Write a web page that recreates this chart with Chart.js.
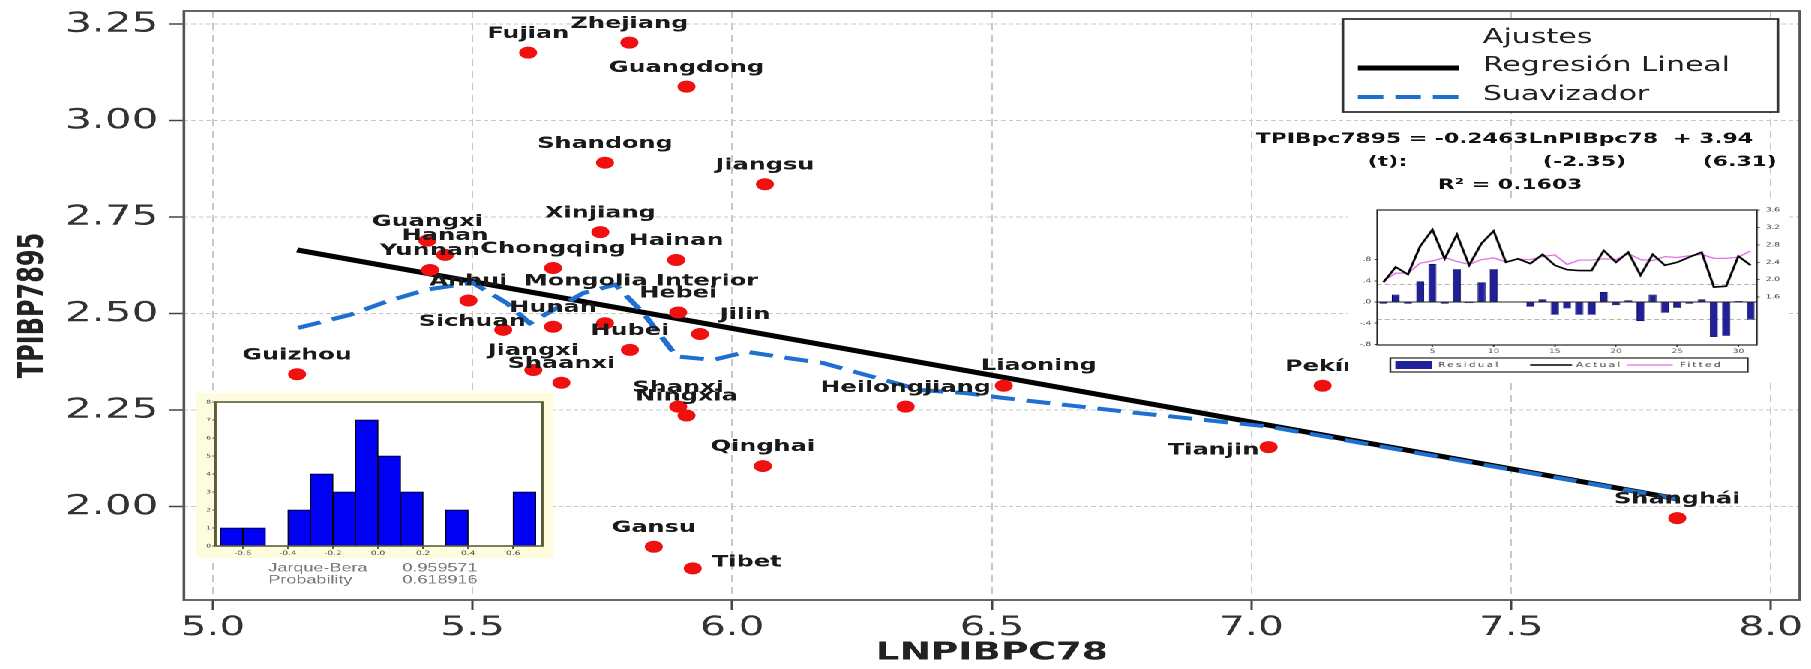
<!DOCTYPE html>
<html>
<head>
<meta charset="utf-8">
<script src="https://cdn.jsdelivr.net/npm/chart.js@4.4.1/dist/chart.umd.min.js"></script>
<style>
  html, body { margin: 0; padding: 0; background: #fff; overflow: hidden; }
  #wrap { position: absolute; left: 0; top: 0; transform-origin: 0 0; }
  .box { position: absolute; }
</style>
</head>
<body>
<div id="wrap">
  <div class="box" id="mainBox"><canvas id="main"></canvas></div>
  <div class="box" id="histBox"><canvas id="hist"></canvas></div>
  <div class="box" id="residBox"><canvas id="resid"></canvas></div>
</div>
<script>
// the reference picture is stretched sideways, so the whole page is drawn narrow and scaled
const S = 1.5;
const X = v => v / S;

// scatter: provinces
const provinces = ['Fujian', 'Zhejiang', 'Guangdong', 'Shandong', 'Jiangsu', 'Xinjiang', 'Guangxi', 'Hanan',
  'Hainan', 'Yunnan', 'Chongqing', 'Anhui', 'Mongolia Interior', 'Hebei', 'Hunan', 'Sichuan', 'Jilin', 'Hubei',
  'Jiangxi', 'Shaanxi', 'Guizhou', 'Shanxi', 'Ningxia', 'Heilongjiang', 'Liaoning', 'Qinghai', 'Gansu', 'Tibet',
  'Tianjin', 'Pekín', 'Shanghái'];
const lnpib = [5.607, 5.802, 5.912, 5.755, 6.063, 5.746, 5.413, 5.447, 5.892, 5.418, 5.655, 5.492, 5.755, 5.896,
  5.655, 5.559, 5.938, 5.803, 5.617, 5.671, 5.162, 5.896, 5.912, 6.334, 6.523, 6.059, 5.849, 5.924, 7.033, 7.137, 7.820];
const tpib = [3.176, 3.202, 3.088, 2.891, 2.835, 2.711, 2.689, 2.652, 2.639, 2.613, 2.618, 2.534, 2.475, 2.503,
  2.466, 2.458, 2.447, 2.406, 2.354, 2.321, 2.343, 2.259, 2.236, 2.259, 2.313, 2.105, 1.896, 1.840, 2.154, 2.313, 1.970];

// fitted lines
const regX = [5.162, 7.82];
const regY = [2.665, 2.02];
const smoothX = [5.164, 5.264, 5.334, 5.411, 5.50, 5.566, 5.610, 5.713, 5.775, 5.829, 5.893, 5.963, 6.028, 6.106,
  6.175, 6.244, 6.363, 6.450, 6.519, 6.604, 6.691, 6.777, 6.906, 7.035, 7.44, 7.82];
const smoothY = [2.463, 2.497, 2.531, 2.562, 2.580, 2.527, 2.475, 2.553, 2.575, 2.501, 2.389, 2.380, 2.401, 2.385,
  2.372, 2.346, 2.302, 2.294, 2.282, 2.269, 2.256, 2.243, 2.225, 2.207, 2.11, 2.02];

const xTicks = [5.0, 5.5, 6.0, 6.5, 7.0, 7.5, 8.0];
const yTicks = [2.00, 2.25, 2.50, 2.75, 3.00, 3.25];

// histogram of residuals
const histMid = [-0.65, -0.55, -0.45, -0.35, -0.25, -0.15, -0.05, 0.05, 0.15, 0.25, 0.35, 0.45, 0.55, 0.65];
const histCount = [1, 1, 0, 2, 4, 3, 7, 5, 3, 0, 2, 0, 0, 3];
const histXTicks = [-0.6, -0.4, -0.2, 0.0, 0.2, 0.4, 0.6];
const histYTicks = [0, 1, 2, 3, 4, 5, 6, 7, 8];
const jbStat = '0.959571';
const jbProb = '0.618916';

// residual / actual / fitted
const obs = [1, 2, 3, 4, 5, 6, 7, 8, 9, 10, 11, 12, 13, 14, 15, 16, 17, 18, 19, 20, 21, 22, 23, 24, 25, 26, 27, 28, 29, 30, 31];
const actual = [1.94, 2.29, 2.12, 2.77, 3.15, 2.48, 3.04, 2.33, 2.83, 3.12, 2.40, 2.48, 2.37, 2.58, 2.33, 2.23,
  2.21, 2.21, 2.67, 2.40, 2.63, 2.10, 2.58, 2.33, 2.40, 2.52, 2.63, 1.83, 1.85, 2.54, 2.33];
const fitted = [1.97, 2.15, 2.15, 2.38, 2.43, 2.51, 2.42, 2.35, 2.46, 2.50, 2.41, 2.47, 2.46, 2.53, 2.57, 2.35,
  2.45, 2.45, 2.48, 2.46, 2.60, 2.46, 2.44, 2.53, 2.51, 2.55, 2.58, 2.49, 2.49, 2.52, 2.66];
const resid = [-0.03, 0.14, -0.03, 0.39, 0.72, -0.03, 0.62, -0.02, 0.37, 0.62, -0.01, 0.01, -0.09, 0.05, -0.24,
  -0.12, -0.24, -0.24, 0.19, -0.06, 0.03, -0.36, 0.14, -0.20, -0.11, -0.03, 0.05, -0.66, -0.64, 0.02, -0.33];
const residSE = 0.33;
const residTicks = [-0.8, -0.4, 0.0, 0.4, 0.8];
const levelTicks = [1.6, 2.0, 2.4, 2.8, 3.2, 3.6];

// label offsets from the dot, in page px (default: centred above)
const labelShift = {
  'Sichuan': [-31, -8], 'Jilin': [45, -19], 'Tibet': [54, -6], 'Liaoning': [35, -20],
  'Tianjin': [-55, 3], 'Mongolia Interior': [36, -42]
};

Chart.defaults.font.family = "'DejaVu Sans', sans-serif";
Chart.defaults.color = '#333';

function place(id, left, top, width, height) {
  const el = document.getElementById(id);
  el.style.left = X(left) + 'px';
  el.style.top = top + 'px';
  el.style.width = X(width) + 'px';
  el.style.height = height + 'px';
}
const wrap = document.getElementById('wrap');
wrap.style.width = X(1811) + 'px';
wrap.style.height = '669px';
wrap.style.transform = `scaleX(${S})`;
place('mainBox', 0, 0, 1811, 669);
place('histBox', 196, 393, 360, 197);
place('residBox', 1348, 198, 442, 180);

// fixed axis sizes, and no extra room for overhanging tick labels
function fixSize(prop, v) {
  return s => {
    s[prop] = v;
    s.paddingTop = 0; s.paddingBottom = 0; s.paddingLeft = 0; s.paddingRight = 0;
  };
}

const mainDecor = {
  id: 'mainDecor',
  afterDatasetsDraw(chart) {
    const ctx = chart.ctx;
    const a = chart.chartArea;
    ctx.save();
    // frame
    ctx.strokeStyle = '#555';
    ctx.lineWidth = 1.8;
    ctx.strokeRect(a.left, a.top, a.right - a.left, a.bottom - a.top);

    // point labels
    ctx.font = "bold 16px 'DejaVu Sans'";
    ctx.fillStyle = '#1a1a1a';
    ctx.textAlign = 'center';
    ctx.textBaseline = 'middle';
    chart.getDatasetMeta(2).data.forEach((p, i) => {
      const sh = labelShift[provinces[i]] || [0, -19];
      ctx.fillText(provinces[i], p.x + X(sh[0]), p.y + sh[1]);
    });

    // legend box
    const lx = X(1343), ly = 19, lw = X(1778) - X(1343), lh = 93;
    ctx.fillStyle = '#fff';
    ctx.fillRect(lx, ly, lw, lh);
    ctx.strokeStyle = '#333';
    ctx.lineWidth = 1.8;
    ctx.strokeRect(lx, ly, lw, lh);
    ctx.font = "20px 'DejaVu Sans'";
    ctx.fillStyle = '#222';
    ctx.textAlign = 'left';
    ctx.fillText('Ajustes', X(1483), 38);
    ctx.fillText('Regresión Lineal', X(1483), 66);
    ctx.fillText('Suavizador', X(1483), 95);
    ctx.lineWidth = 5;
    ctx.strokeStyle = '#000';
    ctx.beginPath(); ctx.moveTo(X(1358), 68); ctx.lineTo(X(1459), 68); ctx.stroke();
    ctx.lineWidth = 4;
    ctx.strokeStyle = '#1e6fd0';
    ctx.setLineDash([17, 8]);
    ctx.beginPath(); ctx.moveTo(X(1358), 97); ctx.lineTo(X(1459), 97); ctx.stroke();
    ctx.setLineDash([]);

    // regression equation
    ctx.font = "bold 14.6px 'DejaVu Sans'";
    ctx.fillStyle = '#111';
    ctx.textBaseline = 'alphabetic';
    ctx.fillText('TPIBpc7895 = -0.2463LnPIBpc78  + 3.94', X(1256), 143);
    ctx.fillText('(t):', X(1368), 166);
    ctx.fillText('(-2.35)', X(1543), 166);
    ctx.fillText('(6.31)', X(1703), 166);
    ctx.fillText('R² = 0.1603', X(1438), 189);
    ctx.restore();
  }
};

new Chart(document.getElementById('main'), {
  type: 'scatter',
  data: {
    datasets: [
      {
        type: 'line', label: 'Regresión Lineal',
        data: regX.map((x, i) => ({ x, y: regY[i] })),
        borderColor: '#000', borderWidth: 5, pointRadius: 0, tension: 0, order: 3
      },
      {
        type: 'line', label: 'Suavizador',
        data: smoothX.map((x, i) => ({ x, y: smoothY[i] })),
        borderColor: '#1e6fd0', borderWidth: 4, borderDash: [16, 8], pointRadius: 0, tension: 0, order: 2
      },
      {
        label: 'Provincias',
        data: lnpib.map((x, i) => ({ x, y: tpib[i] })),
        backgroundColor: '#f01010', borderWidth: 0, pointRadius: 6, order: 1
      }
    ]
  },
  options: {
    animation: false,
    responsive: true,
    maintainAspectRatio: false,
    devicePixelRatio: 2,
    layout: { padding: { left: 0, top: 11, right: X(11), bottom: 0 } },
    plugins: { legend: { display: false }, tooltip: { enabled: false } },
    scales: {
      x: {
        type: 'linear', min: 4.944, max: 8.056,
        afterBuildTicks: s => { s.ticks = xTicks.map(v => ({ value: v })); },
        afterFit: fixSize('height', 69),
        grid: { color: '#c8c8c8', lineWidth: 1, tickLength: 10, tickColor: '#444', tickWidth: 1.5 },
        border: { display: false, dash: [7, 5] },
        ticks: { font: { size: 27 }, color: '#333', maxRotation: 0, padding: 2, callback: v => v.toFixed(1) },
        title: { display: true, text: 'LNPIBPC78', color: '#222', font: { size: 25, weight: 'bold' }, padding: { top: 0, bottom: 1 } }
      },
      y: {
        min: 1.758, max: 3.284,
        afterBuildTicks: s => { s.ticks = yTicks.map(v => ({ value: v })); },
        afterFit: fixSize('width', X(184)),
        grid: { color: '#c8c8c8', lineWidth: 1, tickLength: 10, tickColor: '#444', tickWidth: 1.5 },
        border: { display: false, dash: [3, 2] },
        ticks: { font: { size: 28 }, color: '#333', padding: 7, callback: v => v.toFixed(2) },
        title: { display: true, text: 'TPIBP7895', color: '#222', font: { size: 24, weight: 'bold' }, padding: { top: 8, bottom: 0 } }
      }
    }
  },
  plugins: [mainDecor]
});

const histDecor = {
  id: 'histDecor',
  beforeDraw(chart) {
    const ctx = chart.ctx;
    const a = chart.chartArea;
    ctx.save();
    ctx.fillStyle = '#fdfcdc';
    ctx.fillRect(0, 0, X(357), 165);
    ctx.fillStyle = '#fff';
    ctx.fillRect(a.left, a.top, a.right - a.left, a.bottom - a.top);
    ctx.restore();
  },
  afterDraw(chart) {
    const ctx = chart.ctx;
    const a = chart.chartArea;
    ctx.save();
    ctx.strokeStyle = '#5c5c3a';
    ctx.lineWidth = 1.6;
    ctx.strokeRect(a.left, a.top, a.right - a.left, a.bottom - a.top);
    ctx.font = "12px 'Liberation Sans'";
    ctx.fillStyle = '#7a7a7a';
    ctx.textBaseline = 'middle';
    ctx.fillText('Jarque-Bera', X(72), 175);
    ctx.fillText(jbStat, X(206), 175);
    ctx.fillText('Probability', X(72), 187);
    ctx.fillText(jbProb, X(206), 187);
    ctx.restore();
  }
};

new Chart(document.getElementById('hist'), {
  type: 'bar',
  data: {
    datasets: [{
      data: histMid.map((m, i) => ({ x: m, y: histCount[i] })),
      backgroundColor: '#0000f2', borderColor: '#000', borderWidth: 0.8,
      barPercentage: 1, categoryPercentage: 1
    }]
  },
  options: {
    animation: false,
    responsive: true,
    maintainAspectRatio: false,
    devicePixelRatio: 2,
    layout: { padding: { left: 0, top: 9, right: X(14), bottom: 0 } },
    plugins: { legend: { display: false }, tooltip: { enabled: false } },
    scales: {
      x: {
        type: 'linear', min: -0.722, max: 0.73, offset: false,
        afterBuildTicks: s => { s.ticks = histXTicks.map(v => ({ value: v })); },
        afterFit: fixSize('height', 44),
        grid: { offset: false, drawOnChartArea: false, tickLength: 3, tickColor: '#555' },
        border: { display: false },
        ticks: { font: { size: 6 }, color: '#555', padding: 1, maxRotation: 0, callback: v => v.toFixed(1) }
      },
      y: {
        min: 0, max: 8,
        afterBuildTicks: s => { s.ticks = histYTicks.map(v => ({ value: v })); },
        afterFit: fixSize('width', X(19)),
        grid: { drawOnChartArea: false, tickLength: 2, tickColor: '#555' },
        border: { display: false },
        ticks: { font: { size: 5 }, color: '#555', padding: 1 }
      }
    }
  },
  plugins: [histDecor]
});

const residDecor = {
  id: 'residDecor',
  beforeDraw(chart) {
    const ctx = chart.ctx;
    ctx.save();
    ctx.fillStyle = '#fff';
    ctx.fillRect(0, 0, chart.width, chart.height);
    ctx.restore();
  },
  beforeDatasetsDraw(chart) {
    const ctx = chart.ctx;
    const a = chart.chartArea;
    const yl = chart.scales.yl;
    ctx.save();
    ctx.strokeStyle = '#999';
    ctx.lineWidth = 0.8;
    ctx.setLineDash([3, 2]);
    [residSE, -residSE].forEach(v => {
      const y = yl.getPixelForValue(v);
      ctx.beginPath(); ctx.moveTo(a.left, y); ctx.lineTo(a.right, y); ctx.stroke();
    });
    ctx.setLineDash([]);
    ctx.strokeStyle = '#222';
    ctx.lineWidth = 1;
    const y0 = yl.getPixelForValue(0);
    ctx.beginPath(); ctx.moveTo(a.left, y0); ctx.lineTo(a.right, y0); ctx.stroke();
    ctx.restore();
  },
  afterDraw(chart) {
    const ctx = chart.ctx;
    const a = chart.chartArea;
    ctx.save();
    ctx.strokeStyle = '#222';
    ctx.lineWidth = 1.2;
    ctx.strokeRect(a.left, a.top, a.right - a.left, a.bottom - a.top);
    // small legend below
    const o = 1348;
    ctx.lineWidth = 1.2;
    ctx.strokeRect(X(1390 - o), 160, X(1748 - o) - X(1390 - o), 14);
    ctx.fillStyle = '#20209a';
    ctx.fillRect(X(1395 - o), 163, X(1432 - o) - X(1395 - o), 8);
    ctx.strokeStyle = '#000';
    ctx.lineWidth = 1.6;
    ctx.beginPath(); ctx.moveTo(X(1530 - o), 167); ctx.lineTo(X(1572 - o), 167); ctx.stroke();
    ctx.strokeStyle = '#e070e0';
    ctx.lineWidth = 1.2;
    ctx.beginPath(); ctx.moveTo(X(1627 - o), 167); ctx.lineTo(X(1673 - o), 167); ctx.stroke();
    ctx.font = "7px 'DejaVu Sans'";
    ctx.fillStyle = '#444';
    ctx.textBaseline = 'middle';
    ctx.letterSpacing = '1.5px';
    ctx.fillText('Residual', X(1438 - o), 167);
    ctx.fillText('Actual', X(1576 - o), 167);
    ctx.fillText('Fitted', X(1680 - o), 167);
    ctx.restore();
  }
};

const eviewsNum = v => v.toFixed(1).replace('0.', '.');

new Chart(document.getElementById('resid'), {
  type: 'bar',
  data: {
    labels: obs,
    datasets: [
      { type: 'line', label: 'Actual', data: actual, yAxisID: 'yr', borderColor: '#000', borderWidth: 1.6, pointRadius: 0, tension: 0, order: 0 },
      { type: 'line', label: 'Fitted', data: fitted, yAxisID: 'yr', borderColor: '#e070e0', borderWidth: 1.2, pointRadius: 0, tension: 0, order: 1 },
      { type: 'bar', label: 'Residual', data: resid, yAxisID: 'yl', backgroundColor: '#20209a', borderColor: '#000050', borderWidth: 0.6, barPercentage: 0.65, categoryPercentage: 1, order: 2 }
    ]
  },
  options: {
    animation: false,
    responsive: true,
    maintainAspectRatio: false,
    devicePixelRatio: 2,
    layout: { padding: { left: 0, top: 12, right: 0, bottom: 0 } },
    plugins: { legend: { display: false }, tooltip: { enabled: false } },
    scales: {
      x: {
        type: 'category', offset: true,
        afterFit: fixSize('height', 33),
        grid: { display: true, drawOnChartArea: false, offset: false, tickLength: 2, tickColor: c => ((c.index + 1) % 5 === 0 ? '#444' : 'rgba(0,0,0,0)') },
        border: { display: false },
        ticks: { autoSkip: false, maxRotation: 0, font: { size: 6 }, color: '#555', padding: 1, callback: (v, i) => ((i + 1) % 5 === 0 ? String(obs[i]) : '') }
      },
      yl: {
        position: 'left', min: -0.811, max: 1.736,
        afterBuildTicks: s => { s.ticks = residTicks.map(v => ({ value: v })); },
        afterFit: fixSize('width', X(29)),
        grid: { drawOnChartArea: false, tickLength: 2, tickColor: '#444' },
        border: { display: false },
        ticks: { font: { size: 6 }, color: '#555', padding: 2, callback: eviewsNum }
      },
      yr: {
        position: 'right', min: 0.5, max: 3.6,
        afterBuildTicks: s => { s.ticks = levelTicks.map(v => ({ value: v })); },
        afterFit: fixSize('width', X(33)),
        grid: { drawOnChartArea: false, tickLength: 2, tickColor: '#444' },
        border: { display: false },
        ticks: { font: { size: 6 }, color: '#555', padding: 4, callback: v => v.toFixed(1) }
      }
    }
  },
  plugins: [residDecor]
});
</script>
</body>
</html>
